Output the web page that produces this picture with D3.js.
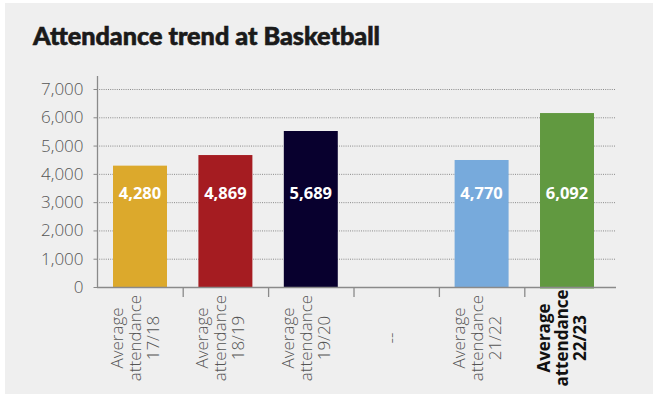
<!DOCTYPE html>
<html><head><meta charset="utf-8">
<script src="https://cdn.jsdelivr.net/npm/d3@7"></script>
<style>
html,body{margin:0;padding:0;background:#fff;}
svg{display:block;}
</style></head>
<body>
<svg id="chart" width="653" height="394"></svg>
<script>
const categories = ["17/18", "18/19", "19/20", "gap", "21/22", "22/23"];
const catLine1 = ["Average", "Average", "Average", "", "Average", "Average"];
const catLine2 = ["attendance", "attendance", "attendance", "--", "attendance", "attendance"];
const catLine3 = ["17/18", "18/19", "19/20", "", "21/22", "22/23"];
const barValues = [4290, 4665, 5515, null, 4490, 6150];
const barLabels = ["4,280", "4,869", "5,689", "", "4,770", "6,092"];
const barColors = ["#dca92c", "#a51c21", "#08002e", null, "#77aadc", "#619940"];
const yTicks = [0, 1000, 2000, 3000, 4000, 5000, 6000, 7000];
const labelLevel = 3330;

const svg = d3.select("#chart");
svg.append("rect").attr("x", 5).attr("y", 3).attr("width", 648).attr("height", 391).attr("fill", "#efefef");

svg.append("text").attr("x", 33).attr("y", 45)
  .attr("font-family", "Lato, 'Open Sans', sans-serif").attr("font-weight", 900)
  .attr("font-size", 24).attr("fill", "#1a1a1a")
  .attr("stroke", "#1a1a1a").attr("stroke-width", 0.6)
  .attr("textLength", 347).attr("lengthAdjust", "spacingAndGlyphs")
  .text("Attendance trend at Basketball");

const x = d3.scaleBand().domain(categories).range([97.3, 609.7]).paddingInner(0.368).paddingOuter(0.184);
const y = d3.scaleLinear().domain([0, 7000]).range([287, 89]);

// gridlines
svg.append("g").selectAll("line").data(yTicks.filter(d => d > 0)).join("line")
  .attr("x1", 97).attr("x2", 616).attr("y1", d => y(d) + 0.5).attr("y2", d => y(d) + 0.5)
  .attr("stroke", "#8a8a8a").attr("stroke-width", 1).attr("stroke-dasharray", "1,1.2");

// y axis
const yAxis = d3.axisLeft(y).tickValues(yTicks).tickFormat(d3.format(",")).tickSize(4).tickPadding(10);
const gy = svg.append("g").attr("transform", "translate(97.5,0)").call(yAxis);
gy.select(".domain").remove();
gy.selectAll(".tick line").attr("stroke", "#8a8a8a");
gy.selectAll(".tick text").attr("font-family", "'Open Sans', sans-serif").attr("font-weight", 300)
  .attr("font-size", 17).attr("fill", "#555");
svg.append("line").attr("x1", 97.5).attr("x2", 97.5).attr("y1", 76).attr("y2", 287.5)
  .attr("stroke", "#8a8a8a").attr("stroke-width", 1.3);

// bars
const barData = categories.map((c, i) => ({c, v: barValues[i], lab: barLabels[i], col: barColors[i]})).filter(d => d.v != null);
svg.append("g").selectAll("rect").data(barData).join("rect")
  .attr("x", d => x(d.c)).attr("width", x.bandwidth())
  .attr("y", d => y(d.v)).attr("height", d => y(0) - y(d.v) + (d.c === "22/23" ? 1.5 : 0))
  .attr("fill", d => d.col);

// x axis
svg.append("line").attr("x1", 97).attr("x2", 616).attr("y1", 287.5).attr("y2", 287.5)
  .attr("stroke", "#8a8a8a").attr("stroke-width", 1.3);
const step = x.step();
svg.append("g").selectAll("line").data(categories.slice(1)).join("line")
  .attr("x1", d => x(d) - x.paddingInner() * step / 2 + 0.5).attr("x2", d => x(d) - x.paddingInner() * step / 2 + 0.5)
  .attr("y1", 287).attr("y2", 297).attr("stroke", "#8a8a8a").attr("stroke-width", 1.3);

// data labels
svg.append("g").selectAll("text").data(barData).join("text")
  .attr("x", d => x(d.c) + x.bandwidth() / 2).attr("y", y(labelLevel)).attr("dy", "0.35em")
  .attr("text-anchor", "middle").attr("font-family", "'Open Sans', sans-serif").attr("font-weight", 700)
  .attr("font-size", 16.5).attr("fill", "#fff").text(d => d.lab);

// category labels
const cg = svg.append("g").selectAll("g").data(categories).join("g")
  .attr("transform", d => `translate(${x(d) + x.bandwidth() / 2 - 5},338) rotate(-90)`);
cg.each(function(d, i) {
  const g = d3.select(this);
  const bold = i === categories.length - 1;
  const lines = [catLine1[i], catLine2[i], catLine3[i]];
  lines.forEach((t, k) => {
    if (!t) return;
    g.append("text").attr("x", 0).attr("y", (k - 1) * 18).attr("dy", "0.35em")
      .attr("text-anchor", "middle")
      .attr("font-family", "'Open Sans', sans-serif")
      .attr("font-weight", bold ? 700 : 300).attr("font-size", 17)
      .attr("fill", bold ? "#111" : "#555").text(t);
  });
});
</script>
</body></html>
